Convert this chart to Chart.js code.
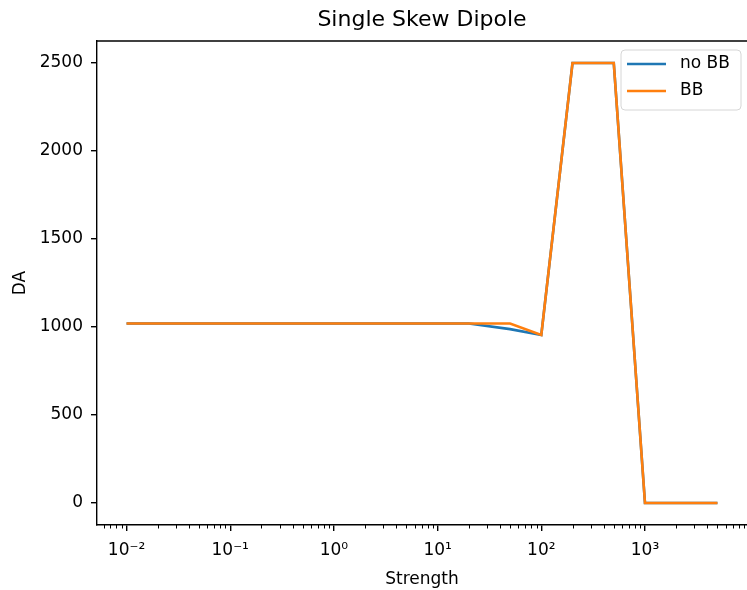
<!DOCTYPE html>
<html>
<head>
<meta charset="utf-8">
<script src="https://cdn.jsdelivr.net/npm/chart.js@4/dist/chart.umd.min.js"></script>
<style>
  html, body { margin: 0; padding: 0; background: #fff; }
  #wrap { width: 747px; height: 590px; }
</style>
</head>
<body>
<div id="wrap"><canvas id="c"></canvas></div>
<script>
// ---- data ----
const strength = [0.01, 0.02, 0.05, 0.1, 0.2, 0.5, 1, 2, 5, 10, 20, 50, 100, 200, 500, 1000, 2000, 5000];
const daNoBB   = [1020, 1020, 1020, 1020, 1020, 1020, 1020, 1020, 1020, 1020, 1020, 988, 955, 2500, 2500, 0, 0, 0];
const daBB     = [1020, 1020, 1020, 1020, 1020, 1020, 1020, 1020, 1020, 1020, 1020, 1020, 955, 2500, 2500, 0, 0, 0];
const seriesLabels = ['no BB', 'BB'];
const xTickValues = [0.01, 0.1, 1, 10, 100, 1000];
const yTickValues = [0, 500, 1000, 1500, 2000, 2500];
const chartTitle = 'Single Skew Dipole';
const xTitle = 'Strength';
const yTitle = 'DA';

const FONT = "'DejaVu Sans', sans-serif";
const SUP = {'-': '\u207B', '0': '\u2070', '1': '\u00B9', '2': '\u00B2', '3': '\u00B3', '4': '\u2074', '5': '\u2075', '6': '\u2076', '7': '\u2077', '8': '\u2078', '9': '\u2079'};
function powLabel(v) {
  const e = Math.round(Math.log10(v));
  return '10' + String(e).split('').map(ch => SUP[ch]).join('');
}
const toPts = (xs, ys) => xs.map((x, i) => ({x: x, y: ys[i]}));

const framePlugin = {
  id: 'frame',
  afterDraw(chart) {
    const {ctx, chartArea: a} = chart;
    const xs = chart.scales.x;
    ctx.save();
    // top spine
    ctx.strokeStyle = '#000';
    ctx.lineWidth = 1.4;
    ctx.beginPath();
    ctx.moveTo(a.left, a.top);
    ctx.lineTo(a.right, a.top);
    ctx.stroke();
    // minor ticks on the log axis
    ctx.lineWidth = 1;
    const lo = Math.floor(Math.log10(xs.min));
    const hi = Math.ceil(Math.log10(xs.max));
    for (let e = lo; e <= hi; e++) {
      for (let m = 2; m <= 9; m++) {
        const v = m * Math.pow(10, e);
        if (v < xs.min || v > xs.max) continue;
        const px = Math.round(xs.getPixelForValue(v)) + 0.5;
        ctx.beginPath();
        ctx.moveTo(px, a.bottom);
        ctx.lineTo(px, a.bottom + 3.5);
        ctx.stroke();
      }
    }
    // legend (inside, upper right)
    const bw = 120, bh = 60;
    const bx = a.right - 6 - bw, by = a.top + 9;
    ctx.beginPath();
    ctx.roundRect(bx, by, bw, bh, 4);
    ctx.fillStyle = 'rgba(255,255,255,0.8)';
    ctx.fill();
    ctx.strokeStyle = '#d6d6d6';
    ctx.lineWidth = 1;
    ctx.stroke();
    ctx.font = '17px ' + FONT;
    ctx.textBaseline = 'middle';
    ctx.textAlign = 'left';
    chart.data.datasets.forEach((ds, i) => {
      const yy = by + 14 + i * 27;
      ctx.strokeStyle = ds.borderColor;
      ctx.lineWidth = 2.6;
      ctx.beginPath();
      ctx.moveTo(bx + 6, yy);
      ctx.lineTo(bx + 45, yy);
      ctx.stroke();
      ctx.fillStyle = '#000';
      ctx.fillText(ds.label, bx + 59, yy);
    });
    ctx.restore();
  }
};

new Chart(document.getElementById('c'), {
  type: 'line',
  data: {
    datasets: [
      {label: seriesLabels[0], data: toPts(strength, daNoBB), borderColor: '#1f77b4', backgroundColor: '#1f77b4', borderWidth: 2.6, pointRadius: 0, tension: 0, order: 1},
      {label: seriesLabels[1], data: toPts(strength, daBB), borderColor: '#ff7f0e', backgroundColor: '#ff7f0e', borderWidth: 2.6, pointRadius: 0, tension: 0, order: 0}
    ]
  },
  options: {
    responsive: true,
    maintainAspectRatio: false,
    animation: false,
    devicePixelRatio: 1,
    layout: {padding: 0},
    plugins: {
      legend: {display: false},
      tooltip: {enabled: false},
      title: {
        display: true,
        fullSize: false,
        text: chartTitle,
        color: '#000',
        font: {family: FONT, size: 22, weight: 'normal', lineHeight: 1.2},
        padding: {top: 7, bottom: 7.6}
      }
    },
    scales: {
      x: {
        type: 'logarithmic',
        bounds: 'data',
        min: Math.pow(10, -2.2849),
        max: Math.pow(10, 3.9839),
        afterBuildTicks: s => { s.ticks = xTickValues.map(v => ({value: v})); },
        afterFit: s => { s.height = 65; },
        grid: {drawOnChartArea: false, drawTicks: true, tickLength: 6, color: '#000', lineWidth: 1.4},
        border: {display: true, color: '#000', width: 1.4},
        ticks: {
          color: '#000', font: {family: FONT, size: 17}, padding: 9,
          maxRotation: 0, autoSkip: false,
          callback: v => powLabel(v)
        },
        title: {display: true, text: xTitle, color: '#000', font: {family: FONT, size: 17}, padding: {top: 0, bottom: 0}}
      },
      y: {
        type: 'linear',
        bounds: 'data',
        min: -125,
        max: 2625,
        afterBuildTicks: s => { s.ticks = yTickValues.map(v => ({value: v})); },
        afterFit: s => { s.width = 97; },
        grid: {drawOnChartArea: false, drawTicks: true, tickLength: 6, color: '#000', lineWidth: 1.4},
        border: {display: true, color: '#000', width: 1.4},
        ticks: {color: '#000', font: {family: FONT, size: 17}, padding: 8, callback: v => String(v)},
        title: {display: true, text: yTitle, color: '#000', font: {family: FONT, size: 17}, padding: {top: 10, bottom: 0}}
      }
    }
  },
  plugins: [framePlugin]
});
</script>
</body>
</html>
